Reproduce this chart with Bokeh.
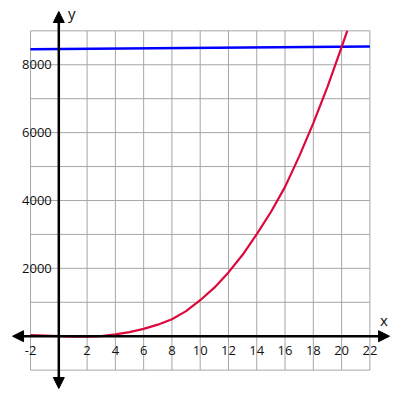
from bokeh.plotting import figure
from bokeh.models import Arrow, NormalHead
from bokeh.embed import file_html
from bokeh.resources import INLINE
from bokeh.core.properties import value

# grid / ticks
x_grid = [-2, 0, 2, 4, 6, 8, 10, 12, 14, 16, 18, 20, 22]
y_grid = [-1000, 0, 1000, 2000, 3000, 4000, 5000, 6000, 7000, 8000, 9000]
x_tick_vals = [-2, 2, 4, 6, 8, 10, 12, 14, 16, 18, 20, 22]
x_tick_text = ["-2", "2", "4", "6", "8", "10", "12", "14", "16", "18", "20", "22"]
y_tick_vals = [2000, 4000, 6000, 8000]
y_tick_text = ["2000", "4000", "6000", "8000"]

# red curve
curve_x = [-2, -1, 0, 1, 2, 3, 4, 5, 6, 7, 8, 9, 10, 11, 12, 13, 14, 15, 16, 17, 18, 19, 20, 20.4]
curve_y = [30, 15, 0, -10, -15, 5, 55, 120, 215, 340, 500, 740, 1060, 1430, 1880, 2400, 3010, 3660, 4400, 5300, 6280, 7350, 8520, 9000]

# blue line
line_x = [-2, 22]
line_y = [8455, 8535]

XMIN, XMAX = -4.123, 24.165
YMIN, YMAX = -1895, 9894

p = figure(width=400, height=400, x_range=(XMIN, XMAX), y_range=(YMIN, YMAX),
           output_backend="svg", toolbar_location=None, min_border=0,
           outline_line_color=None)
p.axis.visible = False
p.grid.visible = False

gx0 = x_grid[0]; gx1 = x_grid[-1]
gy0 = y_grid[0]; gy1 = y_grid[-1]
p.segment(x0=x_grid, y0=[gy0]*len(x_grid), x1=x_grid, y1=[gy1]*len(x_grid),
          line_color="#a6a6a6", line_width=1)
p.segment(x0=[gx0]*len(y_grid), y0=y_grid, x1=[gx1]*len(y_grid), y1=y_grid,
          line_color="#a6a6a6", line_width=1)

# axes with arrows
head = dict(size=11, fill_color="black", line_color="black")
p.add_layout(Arrow(x_start=-3.27, y_start=0, x_end=23.39, y_end=0,
                   start=NormalHead(**head), end=NormalHead(**head),
                   line_width=2.5, line_color="black"))
p.add_layout(Arrow(x_start=0, y_start=-1541, x_end=0, y_end=9570,
                   start=NormalHead(**head), end=NormalHead(**head),
                   line_width=2.5, line_color="black"))

p.line(line_x, line_y, line_color="#0000ff", line_width=2.5)
p.line(curve_x, curve_y, line_color="#dc0a3c", line_width=2.2)

font = value("Open Sans")
p.text(x=x_tick_vals, y=[0]*len(x_tick_vals), text=x_tick_text, y_offset=14,
       text_align="center", text_baseline="middle", text_font=font,
       text_font_size="13px", text_color="#111111")
p.text(x=[0]*len(y_tick_vals), y=y_tick_vals, text=y_tick_text, x_offset=-7,
       text_align="right", text_baseline="middle", text_font=font,
       text_font_size="13px", text_color="#111111")
p.text(x=[gx1], y=[0], text=["x"], x_offset=14, y_offset=-16,
       text_align="center", text_baseline="middle", text_font=font,
       text_font_size="15px", text_color="#111111")
p.text(x=[0], y=[gy1], text=["y"], x_offset=13, y_offset=-18,
       text_align="center", text_baseline="middle", text_font=font,
       text_font_size="15px", text_color="#111111")

open("out.html", "w").write(file_html(p, INLINE))
